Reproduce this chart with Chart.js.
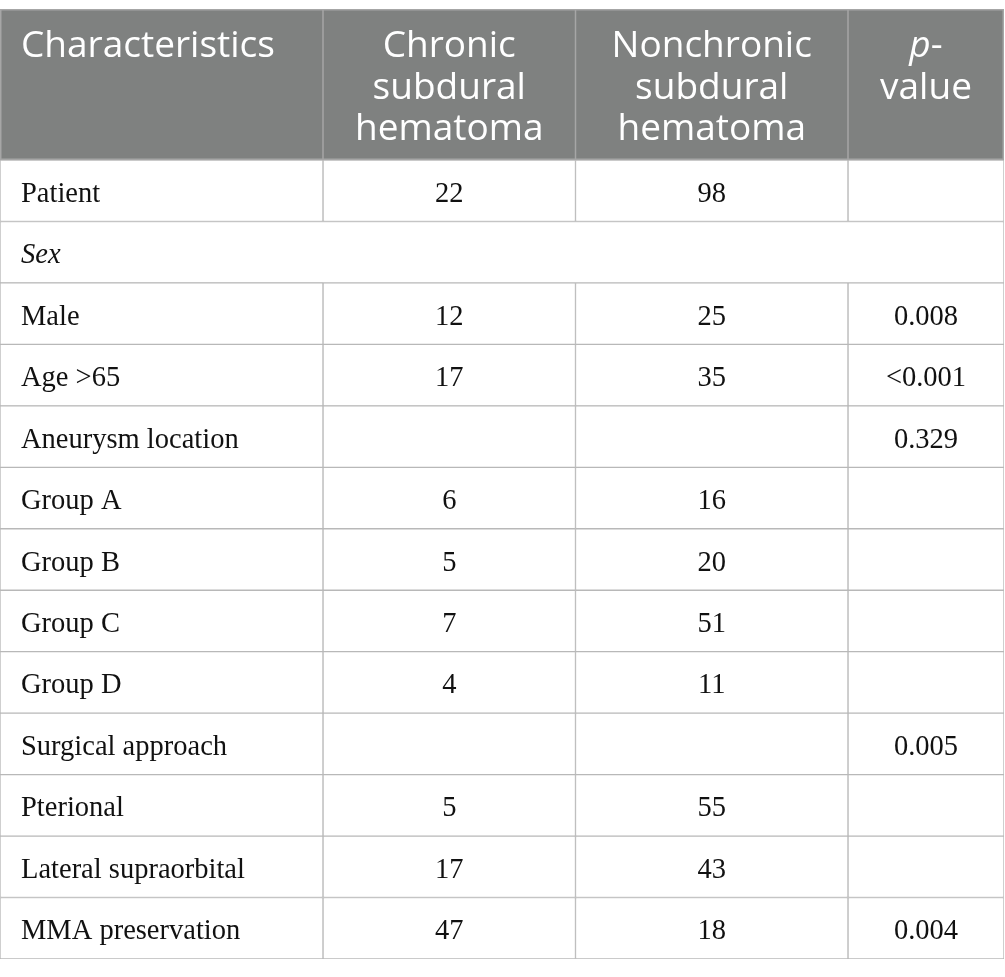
<!DOCTYPE html>
<html>
<head>
<meta charset="utf-8">
<script src="https://cdn.jsdelivr.net/npm/chart.js@4/dist/chart.umd.min.js"></script>
<style>
    html, body { margin: 0; padding: 0; background: #ffffff; }
    #wrap { width: 1005px; height: 977px; position: relative; }
</style>
</head>
<body>
<div id="wrap"><canvas id="tableChart"></canvas></div>
<script>
// Datos de la tabla
const rowLabels = [
    'Patient', 'Sex', 'Male', 'Age >65', 'Aneurysm location',
    'Group A', 'Group B', 'Group C', 'Group D',
    'Surgical approach', 'Pterional', 'Lateral supraorbital', 'MMA preservation'
];
const chronicValues = [22, null, 12, 17, null, 6, 5, 7, 4, null, 5, 17, 47];
const nonchronicValues = [98, null, 25, 35, null, 16, 20, 51, 11, null, 55, 43, 18];
const pValues = ['', '', '0.008', '<0.001', '0.329', '', '', '', '', '0.005', '', '', '0.004'];
const headerLabels = [
    ['Characteristics'],
    ['Chronic', 'subdural', 'hematoma'],
    ['Nonchronic', 'subdural', 'hematoma'],
    ['p-', 'value']
];
const spanningRows = ['Sex'];
const italicRows = ['Sex'];

// Geometría (bordes de columnas en unidades del eje x)
const COL_EDGES = [0, 323, 575.5, 848, 1004];
const HEADER_TOP = 9;
const HEADER_BOTTOM = 160;
const LINE_COLOR = '#b8b8b8';
const HEADER_FILL = '#7f8180';

const columns = [rowLabels, chronicValues, nonchronicValues, pValues];

function cellRange(col, rowIdx) {
    const isSpan = spanningRows.includes(rowLabels[rowIdx]);
    if (isSpan) {
        return col === 0 ? [COL_EDGES[0], COL_EDGES[COL_EDGES.length - 1]] : null;
    }
    return [COL_EDGES[col], COL_EDGES[col + 1]];
}

const datasets = columns.map((values, col) => ({
    label: 'col' + col,
    data: rowLabels.map((_, i) => cellRange(col, i)),
    backgroundColor: '#ffffff',
    borderColor: LINE_COLOR,
    borderWidth: 1,
    borderSkipped: false,
    grouped: false,
    barPercentage: 1,
    categoryPercentage: 1
}));

const tablePlugin = {
    id: 'tablePlugin',
    beforeDatasetsDraw(chart) {
        const ctx = chart.ctx;
        const x = chart.scales.x;
        const left = x.getPixelForValue(COL_EDGES[0]);
        const right = x.getPixelForValue(COL_EDGES[COL_EDGES.length - 1]);
        const bottom = chart.chartArea.top;

        ctx.save();
        ctx.fillStyle = HEADER_FILL;
        ctx.fillRect(left, HEADER_TOP, right - left, bottom - HEADER_TOP);
        ctx.strokeStyle = '#a6a6a6';
        ctx.lineWidth = 1.5;
        ctx.strokeRect(left + 0.75, HEADER_TOP + 0.75, right - left - 1.5, bottom - HEADER_TOP - 1.5);
        COL_EDGES.slice(1, -1).forEach(edge => {
            const px = x.getPixelForValue(edge);
            ctx.beginPath();
            ctx.moveTo(px, HEADER_TOP);
            ctx.lineTo(px, bottom);
            ctx.stroke();
        });

        // Texto del encabezado
        ctx.fillStyle = '#ffffff';
        ctx.textBaseline = 'alphabetic';
        const baselines = [57, 98.5, 140];
        headerLabels.forEach((lines, col) => {
            const x0 = x.getPixelForValue(COL_EDGES[col]);
            const x1 = x.getPixelForValue(COL_EDGES[col + 1]);
            lines.forEach((line, li) => {
                const y = baselines[li];
                if (col === 0) {
                    ctx.font = '37px "Open Sans"';
                    ctx.textAlign = 'left';
                    ctx.fillText(line, x0 + 21, y);
                } else if (line === 'p-') {
                    ctx.font = 'italic 37px "Open Sans"';
                    const wp = ctx.measureText('p').width;
                    ctx.font = '37px "Open Sans"';
                    const wd = ctx.measureText('-').width;
                    const start = (x0 + x1) / 2 - (wp + wd) / 2;
                    ctx.textAlign = 'left';
                    ctx.font = 'italic 37px "Open Sans"';
                    ctx.fillText('p', start, y);
                    ctx.font = '37px "Open Sans"';
                    ctx.fillText('-', start + wp, y);
                } else {
                    ctx.font = '37px "Open Sans"';
                    ctx.textAlign = 'center';
                    ctx.fillText(line, (x0 + x1) / 2, y);
                }
            });
        });
        ctx.restore();
    },
    afterDatasetsDraw(chart) {
        const ctx = chart.ctx;
        ctx.save();
        ctx.fillStyle = '#111111';
        ctx.textBaseline = 'alphabetic';
        columns.forEach((values, col) => {
            const meta = chart.getDatasetMeta(col);
            meta.data.forEach((bar, i) => {
                const text = values[i];
                if (text === null || text === '' || text === undefined) return;
                const p = bar.getProps(['x', 'y', 'base'], true);
                if (p.x === undefined || isNaN(p.y)) return;
                const italic = col === 0 && italicRows.includes(rowLabels[i]);
                ctx.font = (italic ? 'italic ' : '') + '28.5px "Liberation Serif"';
                const y = p.y + 11;
                if (col === 0) {
                    ctx.textAlign = 'left';
                    ctx.fillText(String(text), Math.min(p.x, p.base) + 21, y);
                } else {
                    ctx.textAlign = 'center';
                    ctx.fillText(String(text), (p.x + p.base) / 2, y);
                }
            });
        });
        ctx.restore();
    }
};

new Chart(document.getElementById('tableChart'), {
    type: 'bar',
    data: { labels: rowLabels, datasets: datasets },
    options: {
        indexAxis: 'y',
        responsive: true,
        maintainAspectRatio: false,
        animation: false,
        layout: { padding: { top: HEADER_BOTTOM, bottom: 977 - 959, left: 0, right: 1 } },
        scales: {
            x: { type: 'linear', min: COL_EDGES[0], max: COL_EDGES[COL_EDGES.length - 1], display: false },
            y: { type: 'category', display: false }
        },
        plugins: {
            legend: { display: false },
            tooltip: { enabled: false }
        }
    },
    plugins: [tablePlugin]
});
</script>
</body>
</html>
